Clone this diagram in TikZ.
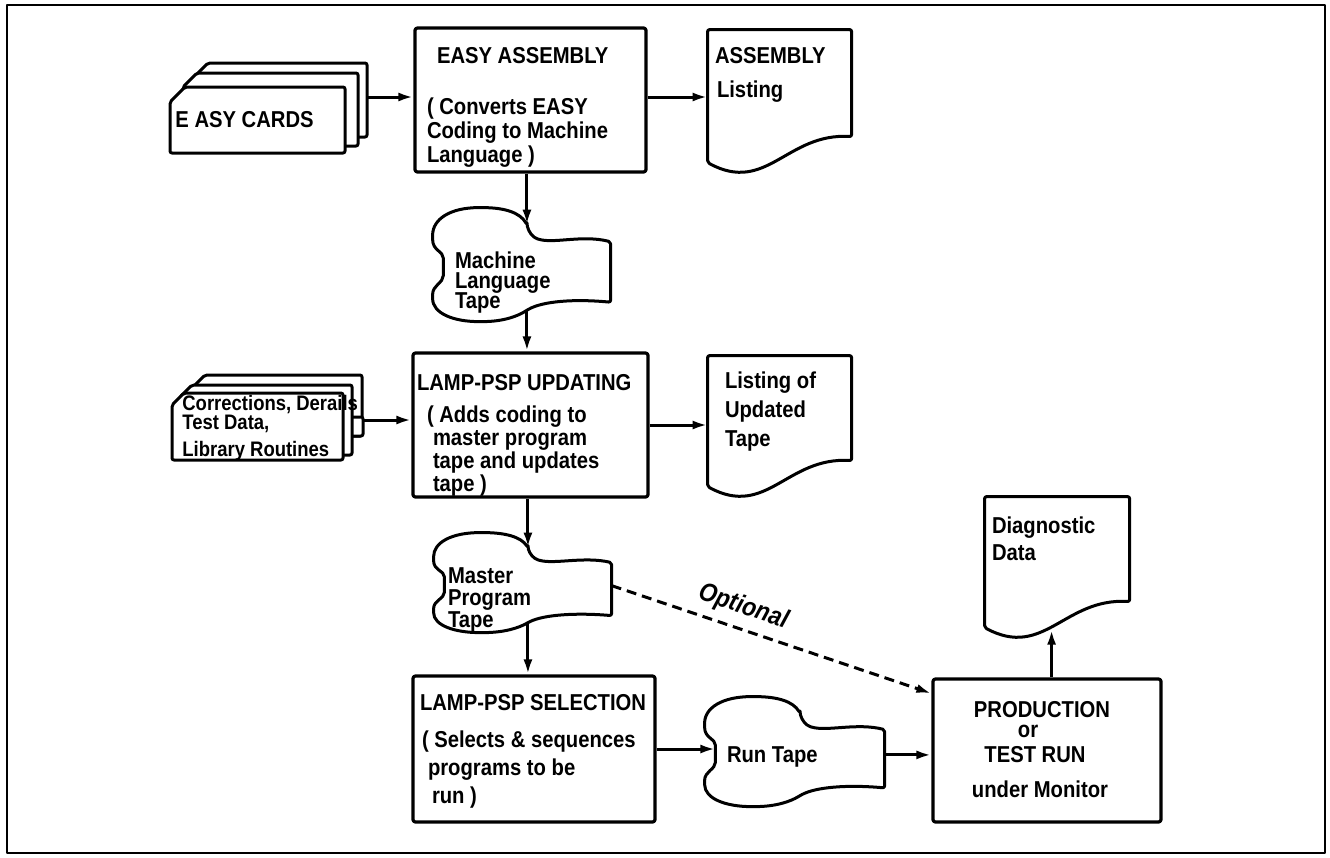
\documentclass[tikz,border=0pt]{standalone}
\usepackage{fontspec}
\setmainfont{Liberation Sans}[UprightFont={* Bold},ItalicFont={* Bold Italic},FakeStretch=0.88]
\usetikzlibrary{arrows.meta,calc}

% text block of fixed size: width, height, first-baseline offset, text
\newcommand\inbox[4]{\begin{minipage}[c][#2][t]{#1}\lineskiplimit=-100pt\lineskip=0pt\raggedright\rule{0pt}{#3}#4\end{minipage}}

% card with cut corner: x1,y1,x2,y2,cut
\newcommand\card[5]{\draw[shp, fill=white] (#1+#5,#2) -- (#3,#2) -- (#3,#4) -- (#1,#4) -- (#1,#2+#5) -- cycle;}

% document outline on a node: name, width, left height
\newcommand\docshape[3]{\begin{scope}[shift={(#1.north west)}]
\draw[shp] (0,0) -- (#2,0) -- (#2,#3-26) .. controls (0.55*#2,#3-30) and (0.41*#2,#3+32) .. (0,#3) -- cycle;
\end{scope}}

% punched tape outline on a node: name, width, height
\newcommand\tapeshape[3]{\begin{scope}[shift={(#1.north west)}, xscale=#2, yscale=#3]
\draw[shp] (0.53,0.15) .. controls (0.49,0.04) and (0.40,0) .. (0.27,0)
 .. controls (0.10,0) and (0,0.10) .. (0,0.26)
 .. controls (0,0.38) and (0.06,0.38) .. (0.06,0.46)
 -- (0.06,0.58)
 .. controls (0.06,0.66) and (0,0.68) .. (0,0.78)
 .. controls (0,0.93) and (0.12,1) .. (0.27,1)
 .. controls (0.40,1) and (0.48,0.95) .. (0.53,0.9)
 .. controls (0.62,0.82) and (0.80,0.80) .. (1,0.83)
 -- (1,0.30)
 .. controls (0.85,0.24) and (0.70,0.31) .. (0.60,0.28)
 .. controls (0.56,0.26) and (0.54,0.21) .. (0.53,0.15) -- cycle;
\coordinate (#1-in) at (0.53,0.15);
\coordinate (#1-out) at (0.53,0.9);
\coordinate (#1-w) at (0.06,0.5);
\coordinate (#1-e) at (1,0.53);
\end{scope}}

\tikzset{
 boxn/.style={draw, line width=1.6pt, rounded corners=1.2pt, inner sep=0pt, font=\fontsize{11.5}{12}\selectfont},
 txtn/.style={inner sep=0pt, font=\fontsize{11.5}{12}\selectfont},
 shp/.style={line width=1.5pt, rounded corners=1pt},
 arr/.style={line width=1.5pt, -{Latex[length=7.5pt,width=4.5pt]}},
 opt/.style={arr, dash pattern=on 5pt off 3pt},
}

\begin{document}
\begin{tikzpicture}[x=0.5pt, y=-0.5pt, line join=round]
\useasboundingbox (0,0) rectangle (1330,858);
\draw[line width=0.8pt] (7,5) rectangle (1325,853);

% EASY CARDS deck
\card{195}{63}{367}{137}{13}
\card{183}{73}{358}{146}{14}
\card{170}{87}{345}{153}{15}
\node[txtn, anchor=base west] (cards) at (175,127) {E ASY CARDS};
\coordinate (c1out) at (367,97);

% Corrections deck
\card{193}{375}{362}{436}{12}
\draw[shp, fill=white] (350,417) rectangle (363,436);
\card{180}{385}{352}{455}{12}
\card{172}{393}{343}{460}{12}
\node[txtn, anchor=north west] (corr) at (182,395) {\inbox{90pt}{33pt}{7.5pt}{\fontsize{10.5}{9.5}\selectfont\mbox{Corrections, Derails}\\\mbox{Test Data,}\\[4pt]\mbox{Library Routines}}};
\coordinate (c2out) at (363,420);

% process boxes
\node[boxn] (ea) at (530.5,100) {\inbox{115.5pt}{72pt}{17.5pt}{\hspace*{11pt}\mbox{EASY ASSEMBLY}\\[13.5pt]\hspace*{6pt}\mbox{( Converts EASY}\\\hspace*{6pt}\mbox{Coding to Machine}\\\hspace*{6pt}\mbox{Language )}}};

\node[boxn] (upd) at (530.5,425) {\inbox{117.5pt}{72pt}{18.5pt}{\fontsize{11.5}{11.5}\selectfont\hspace*{2pt}\mbox{LAMP-PSP UPDATING}\\[4.5pt]\hspace*{7pt}\mbox{( Adds coding to}\\\hspace*{10pt}\mbox{master program}\\\hspace*{10pt}\mbox{tape and updates}\\\hspace*{10pt}\mbox{tape )}}};

\node[boxn] (sel) at (534,749) {\inbox{121pt}{73pt}{17pt}{\fontsize{11.5}{14}\selectfont\hspace*{3.5pt}\mbox{LAMP-PSP SELECTION}\\[4.5pt]\hspace*{4.5pt}\mbox{( Selects \& sequences}\\\hspace*{7.5pt}\mbox{programs to be}\\\hspace*{9.5pt}\mbox{run )}}};

\node[boxn] (prod) at (1047,750.5) {\inbox{114pt}{71.5pt}{19pt}{\fontsize{11.5}{10}\selectfont\centering\hspace*{-5pt}\mbox{PRODUCTION}\\\hspace*{-19pt}\mbox{or}\\[2.5pt]\hspace*{-12pt}\mbox{TEST RUN}\\[7.5pt]\hspace*{-7pt}\mbox{under Monitor}}};

% documents
\node[txtn] (doc1) at (780,101) {\inbox{72pt}{71pt}{16.5pt}{\fontsize{11.5}{17}\selectfont\hspace*{3.5pt}\mbox{ASSEMBLY}\\\hspace*{4.5pt}\mbox{Listing}}};
\docshape{doc1}{144}{133}

\node[txtn] (doc2) at (780,426) {\inbox{72pt}{70pt}{16pt}{\fontsize{11.5}{14.5}\selectfont\hspace*{8.5pt}\mbox{Listing of}\\\hspace*{8.5pt}\mbox{Updated}\\\hspace*{8.5pt}\mbox{Tape}}};
\docshape{doc2}{144}{131}

\node[txtn] (doc3) at (1057.5,567) {\inbox{72.5pt}{70pt}{18pt}{\fontsize{11.5}{13.5}\selectfont\hspace*{3.5pt}\mbox{Diagnostic}\\\hspace*{3.5pt}\mbox{Data}}};
\docshape{doc3}{145}{131}
\coordinate (d3in) at ($(doc3.north west)+(67,133)$);

% tapes
\node[txtn] (mlt) at (522,265) {\inbox{89pt}{57pt}{30pt}{\fontsize{11.5}{10}\selectfont\hspace*{11pt}\mbox{Machine}\\\hspace*{11pt}\mbox{Language}\\\hspace*{11pt}\mbox{Tape}}};
\tapeshape{mlt}{178}{114}

\node[txtn] (mst) at (523,583) {\inbox{89pt}{50pt}{25pt}{\fontsize{11.5}{11}\selectfont\hspace*{7pt}\mbox{Master}\\\hspace*{7pt}\mbox{Program}\\\hspace*{7pt}\mbox{Tape}}};
\tapeshape{mst}{178}{100}

\node[txtn] (run) at (795,752) {\inbox{90pt}{55pt}{32.5pt}{\hspace*{11pt}\mbox{Run Tape}}};
\tapeshape{run}{180}{110}

% connectors
\coordinate (eaR) at ([yshift=1.5pt]ea.east);
\draw[arr] (c1out) -- (c1out -| ea.west);
\draw[arr] (eaR) -- (eaR -| doc1.west);
\draw[arr] (ea.south -| mlt-in) -- (mlt-in);
\draw[arr] (mlt-out) -- (mlt-out |- upd.north);
\draw[arr] (c2out) -- (c2out -| upd.west);
\draw[arr] (upd.east) -- (upd.east -| doc2.west);
\draw[arr] (upd.south -| mst-in) -- (mst-in);
\draw[arr] (mst-out) -- (mst-out |- sel.north);
\draw[arr] (sel.east) -- (sel.east -| run-w);
\draw[arr] (run-e) -- (run-e -| prod.west);
\coordinate (prodNW) at ([yshift=-8pt]prod.north west);
\draw[opt] (mst-e) -- node[pos=0.39, sloped, above=4pt, inner sep=0pt, font=\itshape\fontsize{13}{14}\selectfont] (optl) {Optional} (prodNW);
\draw[arr] (prod.north -| d3in) -- (d3in);
\end{tikzpicture}
\end{document}
